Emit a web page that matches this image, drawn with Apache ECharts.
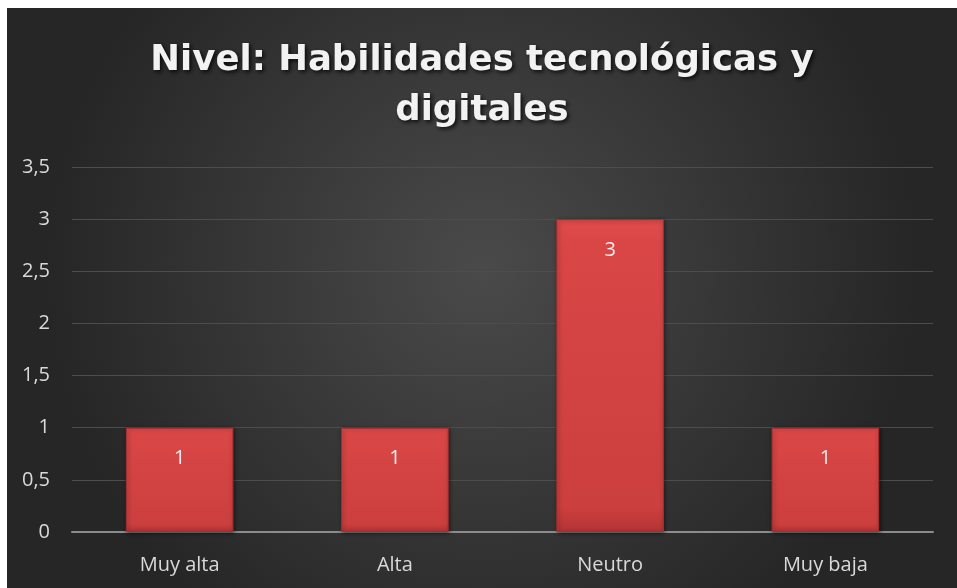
<!DOCTYPE html>
<html>
<head>
<meta charset="utf-8">
<script src="https://cdn.jsdelivr.net/npm/echarts@6/dist/echarts.min.js"></script>
<style>
  html, body { margin: 0; padding: 0; background: #fff; }
  #chart { position: absolute; left: 7px; top: 8px; width: 950px; height: 580px; }
</style>
</head>
<body>
<div id="chart"></div>
<script>
// datos
const categorias = ['Muy alta', 'Alta', 'Neutro', 'Muy baja']
const valores = [1, 1, 3, 1]
const titulo = 'Nivel: Habilidades tecnológicas y\ndigitales'

const chart = echarts.init(document.getElementById('chart'))

const barColor = new echarts.graphic.LinearGradient(0, 0, 0, 1, [
  { offset: 0, color: '#e24b4b' },
  { offset: 0.08, color: '#d94646' },
  { offset: 0.92, color: '#cc3f3f' },
  { offset: 1, color: '#b53434' }
])

chart.setOption({
  backgroundColor: new echarts.graphic.RadialGradient(0.5, 0.45, 0.75, [
    { offset: 0, color: '#4a4a4a' },
    { offset: 1, color: '#262626' }
  ]),
  title: {
    text: titulo,
    left: 'center',
    top: 23,
    textStyle: {
      color: '#f2f2f2',
      fontFamily: 'DejaVu Sans',
      fontWeight: 'bold',
      fontSize: 35.5,
      lineHeight: 50,
      textShadowColor: 'rgba(0,0,0,0.8)',
      textShadowBlur: 4,
      textShadowOffsetX: 2,
      textShadowOffsetY: 2
    }
  },
  grid: { left: 65, right: 24, top: 159, bottom: 56 },
  xAxis: {
    type: 'category',
    data: categorias,
    axisLine: { lineStyle: { color: '#8c8c8c', width: 2 } },
    axisTick: { show: false },
    axisLabel: { color: '#d9d9d9', fontSize: 20, fontFamily: 'Open Sans', margin: 23 }
  },
  yAxis: {
    type: 'value',
    min: 0,
    max: 3.5,
    interval: 0.5,
    axisLine: { show: false },
    axisTick: { show: false },
    splitLine: { lineStyle: { color: '#4d4d4d', width: 1 } },
    axisLabel: {
      color: '#d9d9d9',
      fontSize: 20,
      fontFamily: 'Open Sans',
      margin: 22,
      formatter: v => String(v).replace('.', ',')
    }
  },
  series: [{
    type: 'bar',
    data: valores,
    barWidth: '50%',
    itemStyle: {
      color: barColor,
      borderColor: '#a52e2e',
      borderWidth: 1,
      shadowColor: 'rgba(0,0,0,0.5)',
      shadowBlur: 4,
      shadowOffsetX: 1,
      shadowOffsetY: 1
    },
    label: {
      show: true,
      position: 'insideTop',
      distance: 21,
      color: '#eeeeee',
      fontSize: 20,
      fontFamily: 'Open Sans'
    }
  }]
})
</script>
</body>
</html>
